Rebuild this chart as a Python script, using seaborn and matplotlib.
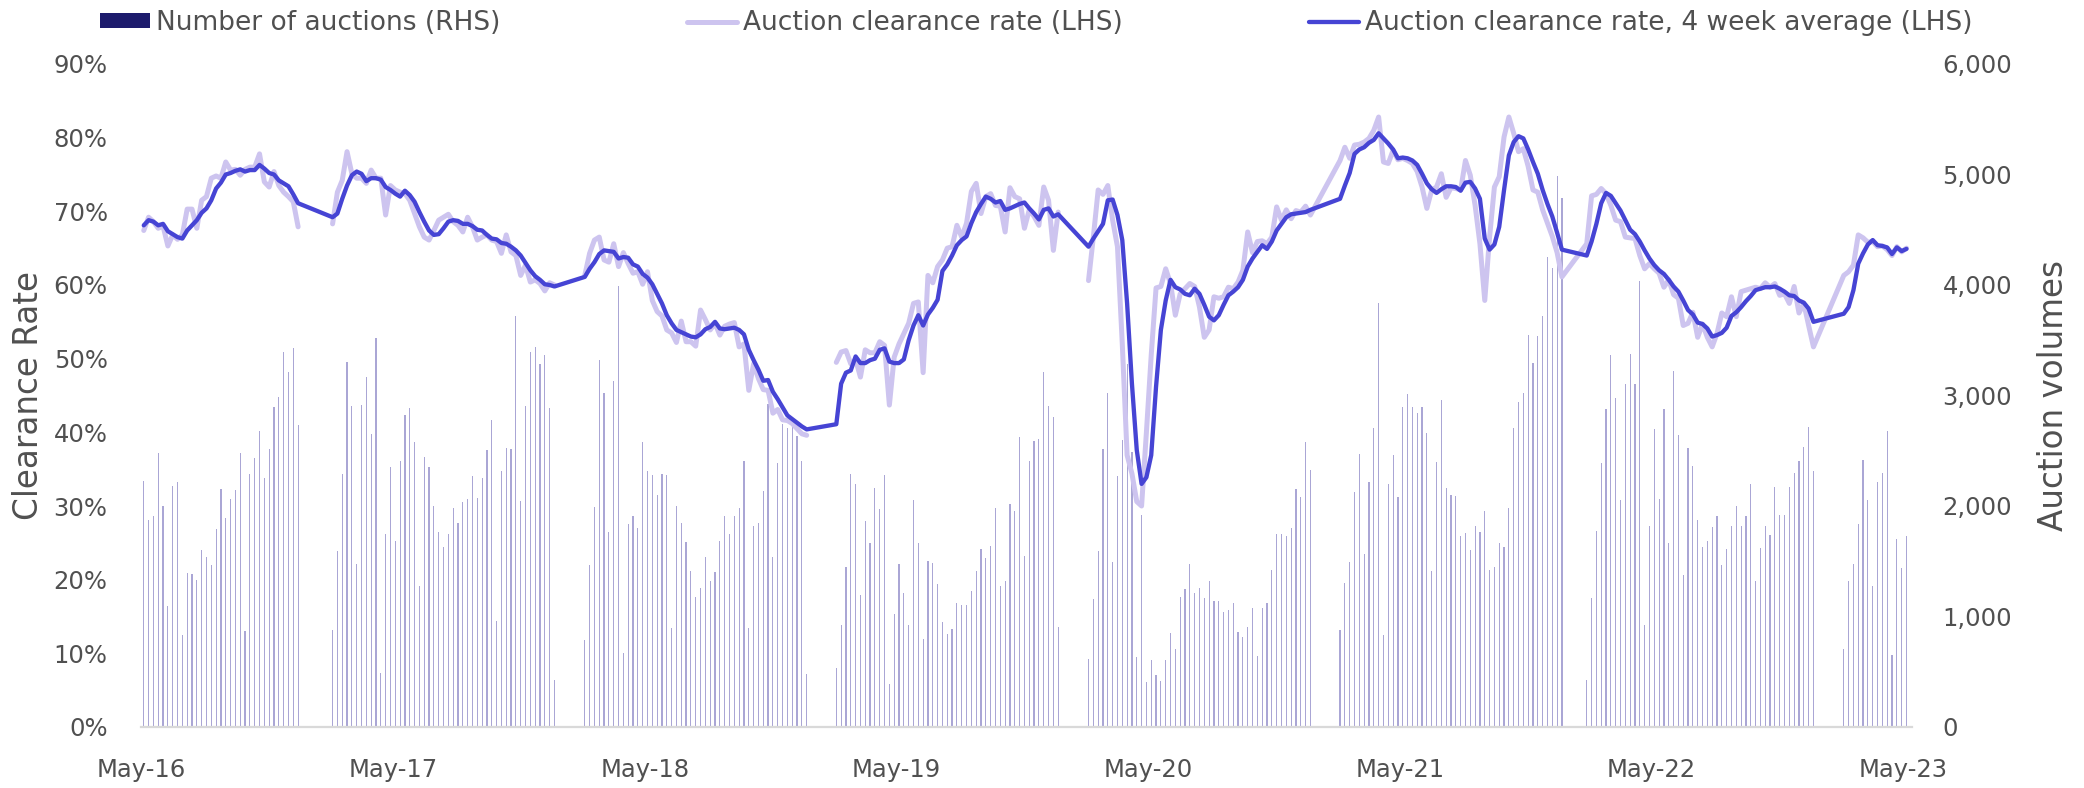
import pandas as pd
import matplotlib
matplotlib.use('Agg')
import matplotlib.pyplot as plt
import matplotlib.dates as mdates
import matplotlib.ticker as mticker
from matplotlib.lines import Line2D
from matplotlib.patches import Patch
import seaborn as sns

sns.set_theme(style='white')
plt.rcParams['font.family'] = ['DejaVu Sans']

# first week of each auction season (the Christmas / January break splits the series)
seg_start = ['2016-05-04', '2017-02-02', '2018-02-03', '2019-02-03',
             '2020-02-04', '2021-02-03', '2022-01-27', '2023-02-04']

# weekly number of auctions (RHS)
auctions_16 = [2222, 1872, 1913, 2478, 2004, 1096, 2177, 2215, 836, 1394, 1386, 1326, 1605, 1537, 1465, 1789,
               2154, 1894, 2060, 2147, 2478, 866, 2286, 2437, 2682, 2249, 2512, 2896, 2987, 3394, 3209, 3431, 2731]
auctions_17 = [878, 1589, 2290, 3303, 2908, 1473, 2915, 3171, 2655, 3518, 486, 1751, 2350, 1684, 2403, 2825,
               2885, 2580, 1277, 2441, 2354, 2000, 1763, 1627, 1748, 1981, 1849, 2034, 2064, 2271, 2072, 2256,
               2505, 2780, 960, 2313, 2524, 2516, 3718, 2045, 2908, 3390, 3435, 3288, 3371, 2889, 425]
auctions_18 = [791, 1469, 1989, 3318, 3024, 1763, 3134, 3989, 667, 1838, 1913, 1800, 2580, 2313, 2282, 2102,
               2294, 2282, 900, 2000, 1849, 1672, 1412, 1175, 1254, 1537, 1322, 1401, 1684, 1913, 1751, 1913,
               1981, 2403, 893, 1819, 1849, 2139, 2927, 1540, 2392, 2746, 2704, 2738, 2637, 2403, 478]
auctions_19 = [535, 923, 1450, 2290, 2203, 1194, 1868, 1669, 2162, 1974, 2279, 392, 1024, 1476, 1217, 927,
               2053, 1661, 798, 1503, 1480, 1296, 953, 844, 889, 1119, 1107, 1107, 1228, 1412, 1612, 1529,
               1635, 1981, 1277, 1318, 2019, 1955, 2621, 1552, 2407, 2591, 2606, 3209, 2908, 2806, 904]
auctions_20 = [614, 1160, 1589, 2512, 3021, 1492, 2271, 2595, 3284, 2490, 629, 1917, 403, 603, 471, 414,
               606, 847, 704, 1179, 1247, 1476, 1213, 1262, 1168, 1318, 1141, 1141, 1043, 1055, 1119, 859,
               810, 904, 1073, 640, 1077, 1126, 1424, 1744, 1751, 1733, 1800, 2158, 2079, 2576, 2328]
auctions_21 = [881, 1299, 1492, 2128, 2475, 1563, 2215, 2704, 3838, 836, 2196, 2463, 2083, 2900, 3013, 2900,
               2840, 2900, 2663, 1412, 2395, 2957, 2166, 2098, 2090, 1725, 1759, 1605, 1819, 1763, 1959, 1424,
               1450, 1669, 1627, 1985, 2708, 2938, 3021, 3548, 3296, 3540, 3721, 4252, 4158, 4983, 4791]
auctions_22 = [425, 1164, 1770, 2392, 2881, 3371, 2975, 2053, 3107, 3375, 3107, 4038, 919, 1819, 2697, 2060,
               2878, 1669, 3224, 2644, 1375, 2527, 2362, 1872, 1627, 1684, 1808, 1910, 1469, 1608, 1815, 2004,
               1815, 1913, 2200, 1318, 1616, 1815, 1740, 2169, 1921, 1917, 2169, 2298, 2411, 2535, 2712, 2320]
auctions_23 = [710, 1317, 1476, 1841, 2417, 2052, 1278, 2218, 2298, 2675, 651, 1702, 1437, 1730]

# weekly auction clearance rate, % (LHS)
rate_16 = [67.4, 69.2, 68.6, 67.7, 68.0, 65.3, 66.8, 66.2, 66.8, 70.3, 70.3, 67.7, 71.5, 72.0, 74.5, 74.8,
           74.5, 76.7, 75.6, 75.7, 74.9, 75.7, 76.0, 76.0, 77.8, 74.0, 73.3, 75.4, 73.5, 72.6, 72.0, 71.3, 67.9]
rate_17 = [68.3, 72.6, 74.2, 78.1, 75.1, 74.5, 74.5, 73.8, 75.6, 74.5, 74.5, 69.5, 73.5, 72.9, 72.6, 72.4,
           71.5, 69.7, 67.9, 66.5, 66.1, 67.4, 68.8, 69.2, 69.6, 68.6, 68.1, 67.2, 69.2, 67.9, 66.1, 66.5,
           66.8, 66.1, 65.9, 64.3, 66.8, 64.5, 64.0, 61.3, 62.7, 60.4, 60.7, 60.2, 59.2, 60.3, 60.0]
rate_18 = [61.3, 64.3, 66.1, 66.5, 63.4, 63.1, 65.6, 62.5, 64.4, 62.9, 61.6, 61.8, 60.1, 61.8, 57.9, 56.4,
           55.8, 53.9, 53.5, 52.2, 55.1, 52.3, 52.3, 51.7, 56.6, 55.3, 53.9, 54.8, 53.2, 54.4, 54.7, 54.9,
           51.6, 52.0, 45.7, 49.3, 47.3, 45.8, 45.7, 42.6, 43.1, 41.7, 41.6, 41.2, 40.5, 39.8, 39.6]
rate_19 = [49.5, 50.9, 51.1, 49.3, 49.9, 47.5, 51.2, 50.8, 50.8, 52.3, 51.8, 43.7, 50.2, 52.0, 53.4, 54.8,
           57.5, 57.7, 48.1, 61.3, 60.3, 62.5, 63.4, 65.0, 65.2, 68.1, 66.5, 68.4, 72.7, 73.8, 69.7, 72.0,
           72.4, 70.8, 70.7, 67.2, 73.2, 72.0, 71.7, 67.7, 70.2, 69.3, 68.1, 73.3, 71.5, 64.7, 69.9]
rate_20 = [60.6, 66.5, 72.9, 72.3, 73.5, 68.8, 65.2, 52.0, 36.9, 34.4, 30.6, 30.0, 40.0, 50.5, 59.6, 59.8,
           62.2, 60.2, 55.9, 58.8, 59.5, 60.2, 59.8, 57.0, 52.9, 53.9, 58.4, 58.2, 58.4, 59.7, 59.5, 60.4,
           62.0, 67.2, 64.4, 65.9, 66.0, 65.6, 66.5, 70.6, 68.8, 70.2, 69.0, 70.1, 69.9, 70.7, 69.5]
rate_21 = [76.9, 78.7, 77.2, 79.0, 79.1, 79.4, 79.9, 81.0, 82.8, 76.7, 76.5, 78.3, 77.0, 77.2, 76.9, 76.5,
           75.4, 73.3, 70.4, 72.9, 73.3, 75.1, 71.9, 73.2, 73.1, 72.9, 76.9, 74.9, 70.8, 65.6, 57.9, 66.5,
           73.3, 74.7, 80.1, 82.8, 80.6, 78.1, 78.5, 76.1, 72.9, 72.6, 70.2, 68.4, 66.6, 64.4, 61.1]
rate_22 = [65.6, 72.1, 72.3, 73.1, 72.4, 70.8, 68.8, 68.6, 66.5, 66.4, 66.3, 64.0, 62.2, 62.9, 62.2, 61.6,
           59.7, 60.7, 58.7, 58.2, 54.5, 54.8, 56.3, 52.9, 54.7, 52.9, 51.6, 53.4, 56.2, 55.7, 58.4, 55.7,
           59.1, 59.3, 59.5, 59.7, 59.5, 60.3, 59.7, 60.2, 58.6, 58.8, 57.5, 59.8, 56.2, 57.5, 54.5, 51.6]
rate_23 = [61.3, 61.8, 62.7, 66.8, 66.4, 65.8, 65.9, 65.2, 65.3, 64.8, 64.0, 65.2, 64.5, 65.0]

# 4 week average clearance rate, % (LHS)
avg_16 = [68.1, 68.8, 68.6, 68.1, 68.3, 67.3, 66.9, 66.5, 66.3, 67.4, 68.1, 68.8, 69.8, 70.4, 71.5, 73.1,
          73.9, 75.0, 75.2, 75.5, 75.7, 75.4, 75.6, 75.6, 76.3, 75.8, 75.2, 75.0, 74.2, 73.8, 73.4, 72.3, 71.1]
avg_17 = [69.2, 69.7, 71.7, 73.5, 74.9, 75.4, 75.1, 74.1, 74.5, 74.5, 74.3, 73.3, 72.9, 72.4, 72.0, 72.8,
          72.2, 71.3, 69.9, 68.6, 67.4, 66.8, 66.9, 67.7, 68.6, 68.8, 68.7, 68.3, 68.3, 68.0, 67.5, 67.4,
          66.8, 66.3, 66.2, 65.7, 65.6, 65.2, 64.7, 64.0, 63.0, 62.0, 61.2, 60.7, 60.1, 60.0, 59.8]
avg_18 = [61.1, 62.2, 63.1, 64.2, 64.7, 64.6, 64.5, 63.6, 63.8, 63.7, 62.8, 62.5, 61.5, 61.0, 60.1, 58.8,
          57.5, 55.9, 54.8, 53.9, 53.6, 53.3, 53.0, 52.9, 53.3, 54.0, 54.3, 55.0, 54.1, 54.0, 54.1, 54.2,
          53.9, 53.3, 51.2, 49.8, 48.5, 47.0, 47.1, 45.5, 44.5, 43.4, 42.3, 41.8, 41.3, 40.8, 40.4]
avg_19 = [41.1, 46.6, 48.1, 48.4, 50.3, 49.4, 49.4, 49.8, 50.0, 51.2, 51.4, 49.6, 49.4, 49.4, 49.9, 52.5,
          54.5, 55.9, 54.5, 56.0, 56.9, 58.0, 61.9, 62.8, 64.0, 65.4, 66.1, 66.6, 68.4, 69.9, 71.0, 72.0,
          71.7, 71.2, 71.4, 70.2, 70.4, 70.7, 71.0, 71.2, 70.4, 69.7, 68.9, 70.2, 70.4, 69.3, 69.6]
avg_20 = [65.2, 66.3, 67.3, 68.3, 71.5, 71.6, 69.5, 66.1, 57.5, 46.6, 37.6, 33.0, 33.9, 36.9, 46.2, 53.9,
          57.9, 60.7, 59.7, 59.4, 58.8, 58.6, 59.5, 58.8, 57.3, 55.7, 55.2, 55.9, 57.3, 58.6, 59.1, 59.7,
          60.7, 62.5, 63.6, 64.5, 65.4, 64.9, 65.9, 67.4, 68.3, 69.2, 69.6, 69.7, 69.8, 69.9, 70.2]
avg_21 = [71.7, 73.5, 75.2, 77.8, 78.4, 78.7, 79.3, 79.7, 80.6, 79.9, 79.2, 78.4, 77.2, 77.3, 77.2, 76.9,
          76.3, 75.1, 73.8, 73.0, 72.5, 73.0, 73.4, 73.4, 73.3, 72.8, 73.9, 74.0, 73.1, 71.7, 66.3, 64.8,
          65.5, 67.9, 72.9, 77.6, 79.4, 80.2, 79.9, 78.4, 76.7, 75.1, 72.9, 71.0, 69.3, 67.1, 64.8]
avg_22 = [64.0, 65.9, 68.3, 71.1, 72.5, 72.1, 71.1, 70.1, 68.8, 67.5, 66.9, 65.9, 64.7, 63.6, 62.7, 62.0,
          61.5, 60.7, 59.8, 59.1, 57.9, 56.6, 56.0, 54.9, 54.7, 54.1, 53.0, 53.2, 53.5, 54.2, 55.8, 56.3,
          57.0, 57.8, 58.5, 59.3, 59.5, 59.7, 59.7, 59.8, 59.5, 59.1, 58.6, 58.5, 57.9, 57.6, 56.8, 55.0]
avg_23 = [56.1, 57.0, 59.3, 62.9, 64.3, 65.5, 66.1, 65.4, 65.3, 65.1, 64.2, 65.1, 64.6, 64.9]

auctions = [auctions_16, auctions_17, auctions_18, auctions_19, auctions_20, auctions_21, auctions_22, auctions_23]
rates = [rate_16, rate_17, rate_18, rate_19, rate_20, rate_21, rate_22, rate_23]
avgs = [avg_16, avg_17, avg_18, avg_19, avg_20, avg_21, avg_22, avg_23]

frames = []
for start, a, r, m in zip(seg_start, auctions, rates, avgs):
    d = pd.DataFrame({'date': pd.date_range(start, periods=len(a), freq='7D'),
                      'auctions': a, 'rate': r, 'avg': m})
    d['season'] = pd.Timestamp(start).year
    frames.append(d)
df = pd.concat(frames, ignore_index=True)
# the weekly series is broken over the summer break until 2020, joined afterwards
df['piece'] = df['season'].clip(upper=2020)

BAR = '#aaa6d5'
LIGHT = '#cdc4ef'
DARK = '#4644d4'
NAVY = '#1d1b6c'
TXT = '#505050'

fig = plt.figure(figsize=(20.84, 7.88), dpi=100)
ax = fig.add_axes([141 / 2084, 1 - 727 / 788, (1912 - 141) / 2084, (727 - 64) / 788])
ax2 = ax.twinx()

ax2.bar(df['date'], df['auctions'], width=1.7, color=BAR, linewidth=0)

sns.lineplot(data=df, x='date', y='rate', units='piece', estimator=None,
             color=LIGHT, linewidth=3.6, ax=ax, legend=False)
sns.lineplot(data=df, x='date', y='avg', color=DARK, linewidth=3.1, ax=ax,
             estimator=None, legend=False)

ax.set_zorder(ax2.get_zorder() + 1)
ax.patch.set_visible(False)

ax.set_xlim(pd.Timestamp('2016-04-30'), pd.Timestamp('2023-05-14'))
ax.set_ylim(0, 90)
ax2.set_ylim(0, 6000)
ax.yaxis.set_major_locator(mticker.MultipleLocator(10))
ax.yaxis.set_major_formatter(mticker.FuncFormatter(lambda v, p: f'{v:.0f}%'))
ax2.yaxis.set_major_locator(mticker.MultipleLocator(1000))
ax2.yaxis.set_major_formatter(mticker.FuncFormatter(lambda v, p: f'{v:,.0f}'))
ax.xaxis.set_major_locator(mdates.YearLocator(month=5, day=1))
ax.xaxis.set_major_formatter(mdates.DateFormatter('%b-%y'))

for a in (ax, ax2):
    for s in a.spines.values():
        s.set_visible(False)
    a.grid(False)
ax.spines['bottom'].set_visible(True)
ax.spines['bottom'].set_color('#d9d9d9')
ax.spines['bottom'].set_linewidth(1.6)

ax.tick_params(axis='y', length=0, pad=24, labelsize=17.5, labelcolor=TXT)
ax.tick_params(axis='x', length=0, pad=22, labelsize=17.5, labelcolor=TXT)
ax2.tick_params(axis='y', length=0, pad=22, labelsize=17.5, labelcolor=TXT)

ax.set_xlabel('')
ax.set_ylabel('Clearance Rate', fontsize=23.5, color=TXT, labelpad=6)
ax2.set_ylabel('Auction volumes', fontsize=23.5, color=TXT, labelpad=18)

handles = [Patch(facecolor=NAVY, edgecolor='none'),
           Line2D([], [], color=LIGHT, linewidth=3.6),
           Line2D([], [], color=DARK, linewidth=3.1)]
labels = ['Number of auctions (RHS)', 'Auction clearance rate (LHS)',
          'Auction clearance rate, 4 week average (LHS)']
fig.legend(handles, labels, loc='center left', bbox_to_anchor=(100 / 2084, 1 - 23 / 788),
           ncol=3, frameon=False, fontsize=19, labelcolor=TXT, handlelength=1.9,
           handleheight=0.5, handletextpad=0.23, columnspacing=7.05,
           borderpad=0, borderaxespad=0)

fig.savefig('out.png', dpi=100)
